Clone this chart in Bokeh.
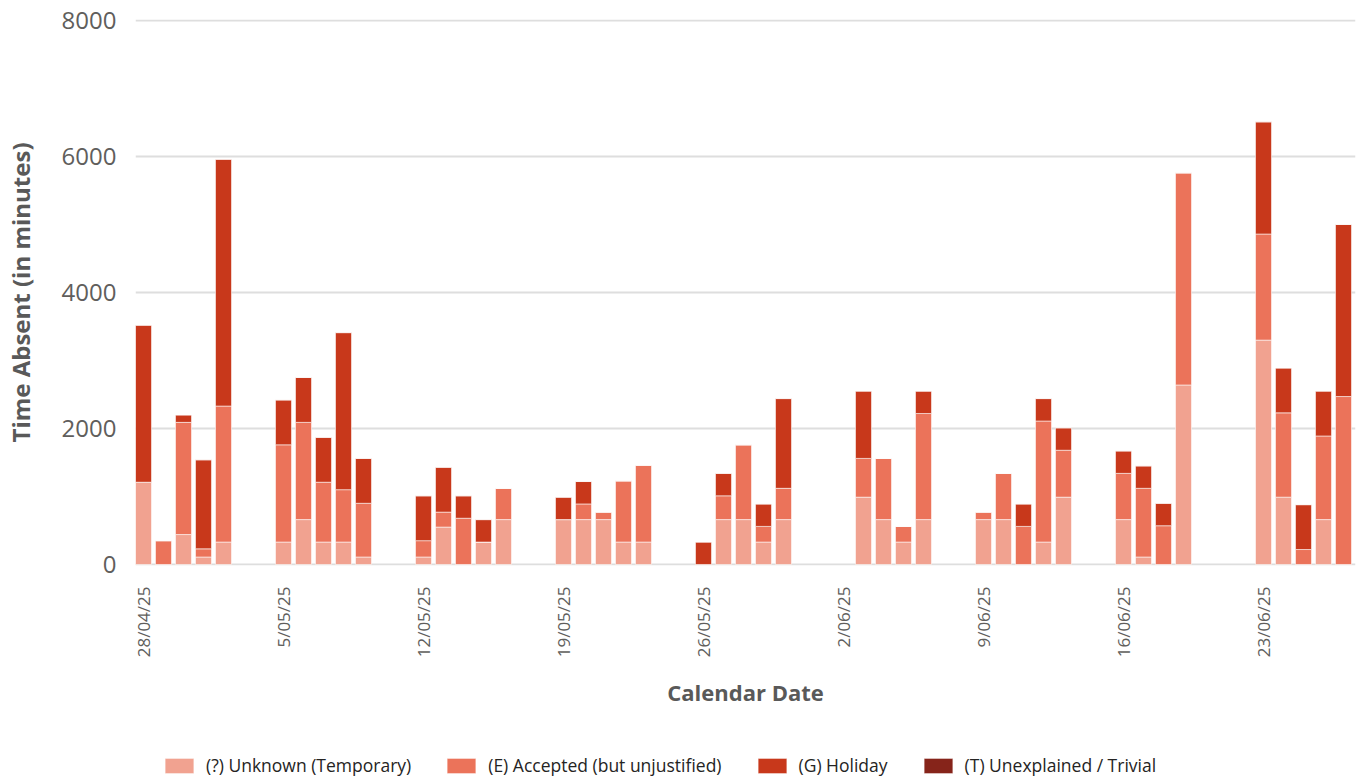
import math
import pandas as pd
from bokeh.plotting import figure
from bokeh.layouts import column
from bokeh.models import ColumnDataSource, Range1d, FixedTicker, Legend, LegendItem
from bokeh.embed import file_html
from bokeh.resources import INLINE

# ---------------- data ----------------
dates = [
    "2025-04-28", "2025-04-29", "2025-04-30", "2025-05-01", "2025-05-02",
    "2025-05-05", "2025-05-06", "2025-05-07", "2025-05-08", "2025-05-09",
    "2025-05-12", "2025-05-13", "2025-05-14", "2025-05-15", "2025-05-16",
    "2025-05-19", "2025-05-20", "2025-05-21", "2025-05-22", "2025-05-23",
    "2025-05-26", "2025-05-27", "2025-05-28", "2025-05-29", "2025-05-30",
    "2025-06-03", "2025-06-04", "2025-06-05", "2025-06-06",
    "2025-06-09", "2025-06-10", "2025-06-11", "2025-06-12", "2025-06-13",
    "2025-06-16", "2025-06-17", "2025-06-18", "2025-06-19",
    "2025-06-23", "2025-06-24", "2025-06-25", "2025-06-26", "2025-06-27",
]
unknown_temporary = [
    1210, 0, 440, 110, 330,
    330, 660, 330, 330, 110,
    110, 550, 0, 330, 660,
    660, 660, 660, 330, 330,
    0, 660, 660, 330, 660,
    990, 660, 330, 660,
    660, 660, 0, 330, 990,
    660, 110, 0, 2640,
    3300, 990, 0, 660, 0,
]
accepted_unjustified = [
    0, 350, 1650, 120, 2000,
    1430, 1430, 880, 770, 790,
    240, 220, 680, 0, 460,
    0, 230, 110, 900, 1130,
    0, 350, 1100, 230, 460,
    570, 900, 230, 1560,
    110, 680, 560, 1780, 690,
    680, 1010, 570, 3120,
    1560, 1240, 220, 1230, 2470,
]
holiday = [
    2310, 0, 110, 1310, 3630,
    660, 660, 660, 2310, 660,
    660, 660, 330, 330, 0,
    330, 330, 0, 0, 0,
    330, 330, 0, 330, 1320,
    990, 0, 0, 330,
    0, 0, 330, 330, 330,
    330, 330, 330, 0,
    1650, 660, 660, 660, 2530,
]
unexplained_trivial = [0] * len(dates)

series_names = ["(?) Unknown (Temporary)", "(E) Accepted (but unjustified)",
                "(G) Holiday", "(T) Unexplained / Trivial"]
series_colors = ["#F1A290", "#EB735A", "#C8381B", "#86241A"]
y_ticks = [0, 2000, 4000, 6000, 8000]

# ---------------- build ----------------
start = pd.Timestamp("2025-04-28")
end = pd.Timestamp("2025-06-27")
dts = pd.to_datetime(dates)
xs = [(d - start).days for d in dts]
ndays = (end - start).days + 1

source = ColumnDataSource(dict(
    x=xs, U=unknown_temporary, E=accepted_unjustified, G=holiday, T=unexplained_trivial,
))

FIG_W = 129 + 1220 + 4

p = figure(frame_width=1220, frame_height=546,
           x_range=Range1d(-0.4, ndays - 0.4), y_range=Range1d(-15, 8015),
           output_backend="svg", toolbar_location=None,
           min_border_left=129, min_border_right=4, min_border_top=19, min_border_bottom=180)
p.outline_line_color = None
p.background_fill_color = "white"
p.border_fill_color = "white"

renderers = p.vbar_stack(["U", "E", "G", "T"], x="x", width=0.8, source=source,
                         fill_color=series_colors, line_color="white", line_alpha=0.55,
                         line_width=1)

# x axis: weekly ticks on Mondays
tick_pos = list(range(0, ndays, 7))
overrides = {}
for t in tick_pos:
    d = start + pd.Timedelta(days=t)
    overrides[t] = f"{d.day}/{d.month:02d}/{d.strftime('%y')}"
xa = p.xaxis[0]
xa.ticker = FixedTicker(ticks=tick_pos)
xa.major_label_overrides = overrides
xa.major_label_orientation = math.pi / 2
xa.major_label_text_font = "Open Sans"
xa.major_label_text_font_size = "17px"
xa.major_label_text_color = "#605E5C"
xa.major_label_standoff = 15
xa.major_tick_line_color = None
xa.minor_tick_line_color = None
xa.axis_line_color = None
xa.axis_label = "Calendar Date"
xa.axis_label_text_font = "Open Sans"
xa.axis_label_text_font_style = "bold"
xa.axis_label_text_font_size = "22px"
xa.axis_label_text_color = "#595959"
xa.axis_label_standoff = 17

ya = p.yaxis[0]
ya.ticker = FixedTicker(ticks=y_ticks)
ya.major_label_text_font = "Open Sans"
ya.major_label_text_font_size = "24px"
ya.major_label_text_color = "#605E5C"
ya.major_label_standoff = 13
ya.major_tick_line_color = None
ya.minor_tick_line_color = None
ya.axis_line_color = None
ya.axis_label = "Time Absent (in minutes)"
ya.axis_label_text_font = "Open Sans"
ya.axis_label_text_font_style = "bold"
ya.axis_label_text_font_size = "24px"
ya.axis_label_text_color = "#595959"
ya.axis_label_standoff = 22

p.xgrid.grid_line_color = None
p.ygrid.grid_line_color = "#DEDEDE"
p.ygrid.grid_line_width = 2

# ---------------- legend strip (separate figure below the chart) ----------------
lg = figure(width=FIG_W, height=34, x_range=Range1d(0, 1), y_range=Range1d(0, 1),
            output_backend="svg", toolbar_location=None,
            x_axis_type=None, y_axis_type=None,
            min_border_left=0, min_border_right=0, min_border_top=0, min_border_bottom=0)
lg.outline_line_color = None
lg.xgrid.visible = False
lg.ygrid.visible = False
# legend-only swatches: one bar each, placed entirely outside the visible ranges
swatch_src = ColumnDataSource(dict(x=[-10.0], top=[-5.0], bottom=[-6.0]))
legend_renderers = [lg.vbar(x="x", top="top", bottom="bottom", width=0.8, source=swatch_src,
                            fill_color=c, line_color="white", line_alpha=0.55, line_width=1)
                    for c in series_colors]
legend = Legend(items=[LegendItem(label=n, renderers=[r]) for n, r in zip(series_names, legend_renderers)],
                orientation="horizontal", location=(26, 2),
                glyph_width=36, glyph_height=19, label_standoff=9, spacing=32,
                padding=0, margin=0, border_line_alpha=0, background_fill_alpha=0,
                label_text_font="Open Sans", label_text_font_size="17.5px",
                label_text_color="#252423")
lg.add_layout(legend, "center")

layout = column(p, lg, spacing=0)
open("out.html", "w").write(file_html(layout, INLINE))
